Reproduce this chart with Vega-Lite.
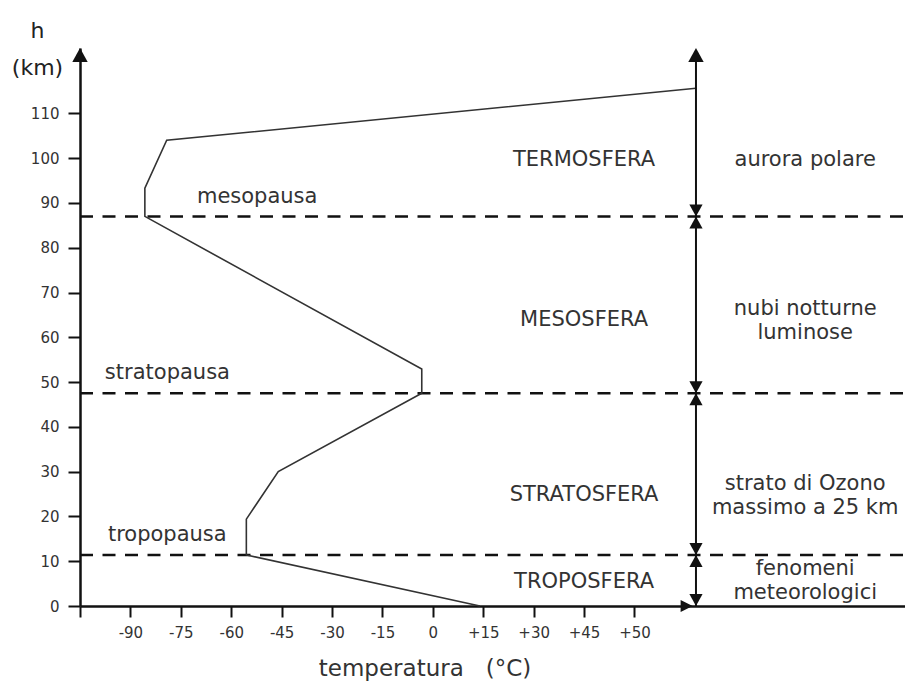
{
  "$schema": "https://vega.github.io/schema/vega-lite/v6.json",
  "width": 825,
  "height": 558,
  "autosize": {"type": "none"},
  "padding": {"left": 80, "top": 48, "right": 0, "bottom": 80},
  "background": "white",
  "config": {
    "view": {"stroke": null},
    "font": "DejaVu Sans",
    "text": {"font": "DejaVu Sans", "color": "#333"}
  },
  "datasets": {
    "profile": [
      {"o": 0, "t": 14, "h": 0},
      {"o": 1, "t": -55.5, "h": 11.4},
      {"o": 2, "t": -55.5, "h": 19.4},
      {"o": 3, "t": -46, "h": 30},
      {"o": 4, "t": -3.3, "h": 47.5},
      {"o": 5, "t": -3.3, "h": 52.9},
      {"o": 6, "t": -85.7, "h": 87},
      {"o": 7, "t": -85.7, "h": 93.3},
      {"o": 8, "t": -79.2, "h": 104},
      {"o": 9, "t": 78.3, "h": 115.6}
    ],
    "pauses": [
      {"name": "tropopausa", "h": 11.4, "t": -105, "t2": 140.5},
      {"name": "stratopausa", "h": 47.5, "t": -105, "t2": 140.5},
      {"name": "mesopausa", "h": 87, "t": -105, "t2": 140.5}
    ],
    "vline": [{"t": 78.3, "h": 0, "h2": 123}],
    "arrowsUp": [
      {"t": 78.3, "h": 87},
      {"t": 78.3, "h": 47.5},
      {"t": 78.3, "h": 11.4}
    ],
    "arrowsDown": [
      {"t": 78.3, "h": 87},
      {"t": 78.3, "h": 47.5},
      {"t": 78.3, "h": 11.4},
      {"t": 78.3, "h": 0}
    ],
    "arrowsTop": [
      {"t": -105, "h": 124.6},
      {"t": 78.3, "h": 124.6}
    ],
    "arrowRight": [{"t": 77.3, "h": 0}],
    "regions": [
      {"label": "TERMOSFERA", "t": 45, "h": 99.6},
      {"label": "MESOSFERA", "t": 45, "h": 63.8},
      {"label": "STRATOSFERA", "t": 45, "h": 24.8},
      {"label": "TROPOSFERA", "t": 45, "h": 5.4}
    ],
    "phenomena": [
      {"label": "aurora polare", "t": 110.8, "h": 99.6},
      {"label": "nubi notturne\nluminose", "t": 110.8, "h": 66.3},
      {"label": "strato di Ozono\nmassimo a 25 km", "t": 110.8, "h": 27.2},
      {"label": "fenomeni\nmeteorologici", "t": 110.8, "h": 8.3}
    ],
    "pauseLabels": [
      {"label": "mesopausa", "t": -70.2, "h": 91.3},
      {"label": "stratopausa", "t": -97.6, "h": 52.0},
      {"label": "tropopausa", "t": -96.7, "h": 15.9}
    ]
  },
  "encoding": {
    "x": {
      "field": "t",
      "type": "quantitative",
      "scale": {"domain": [-105, 140.5], "nice": false, "zero": false},
      "axis": {
        "title": "temperatura\u00a0\u00a0\u00a0(°C)",
        "values": [-105, -90, -75, -60, -45, -30, -15, 0, 15, 30, 45, 60],
        "labelExpr": "datum.value == -105 ? '' : datum.value == 60 ? '+50' : datum.value > 0 ? '+' + datum.value : '' + datum.value",
        "grid": false,
        "tickSize": 11,
        "tickWidth": 2,
        "tickColor": "#111",
        "domainColor": "#111",
        "domainWidth": 2.5,
        "labelPadding": 8,
        "labelFontSize": 15,
        "labelColor": "#333",
        "labelFont": "DejaVu Sans",
        "labelFlush": false,
        "labelOverlap": false,
        "titleFont": "DejaVu Sans",
        "titleFontSize": 23,
        "titleFontWeight": "normal",
        "titleColor": "#333",
        "titleX": 344.5,
        "titleY": 69,
        "titleAlign": "center",
        "titleBaseline": "alphabetic"
      }
    },
    "y": {
      "field": "h",
      "type": "quantitative",
      "scale": {"domain": [0, 124.6], "nice": false, "zero": false},
      "axis": {
        "title": ["h", "(km)"],
        "values": [0, 10, 20, 30, 40, 50, 60, 70, 80, 90, 100, 110],
        "grid": false,
        "tickSize": 12,
        "tickWidth": 2,
        "tickColor": "#111",
        "domainColor": "#111",
        "domainWidth": 2.5,
        "labelPadding": 9,
        "labelFontSize": 15,
        "labelColor": "#333",
        "labelFont": "DejaVu Sans",
        "labelOverlap": false,
        "labelFlush": false,
        "titleFont": "DejaVu Sans",
        "titleFontSize": 22,
        "titleFontWeight": "normal",
        "titleColor": "#222",
        "titleAngle": 0,
        "titleX": -43,
        "titleY": -28,
        "titleAlign": "center",
        "titleBaseline": "top",
        "titleLineHeight": 37
      }
    }
  },
  "layer": [
    {
      "data": {"name": "pauses"},
      "mark": {"type": "rule", "strokeDash": [13, 9.5], "strokeWidth": 2.5, "color": "#111"},
      "encoding": {"x2": {"field": "t2"}}
    },
    {
      "data": {"name": "profile"},
      "mark": {"type": "line", "strokeWidth": 1.6, "color": "#333"},
      "encoding": {"order": {"field": "o", "type": "quantitative"}}
    },
    {
      "data": {"name": "vline"},
      "mark": {"type": "rule", "strokeWidth": 2, "color": "#111"},
      "encoding": {"y2": {"field": "h2"}}
    },
    {
      "data": {"name": "arrowsUp"},
      "mark": {"type": "point", "shape": "M0,0L0.55,1L-0.55,1Z", "size": 576, "filled": true, "color": "#111", "opacity": 1, "strokeWidth": 0},
      "encoding": {}
    },
    {
      "data": {"name": "arrowsDown"},
      "mark": {"type": "point", "shape": "M0,0L0.55,-1L-0.55,-1Z", "size": 576, "filled": true, "color": "#111", "opacity": 1, "strokeWidth": 0},
      "encoding": {}
    },
    {
      "data": {"name": "arrowsTop"},
      "mark": {"type": "point", "shape": "M0,0L0.55,1L-0.55,1Z", "size": 784, "filled": true, "color": "#111", "opacity": 1, "strokeWidth": 0},
      "encoding": {}
    },
    {
      "data": {"name": "arrowRight"},
      "mark": {"type": "point", "shape": "M0,0L-1,-0.5L-1,0.5Z", "size": 576, "filled": true, "color": "#111", "opacity": 1, "strokeWidth": 0},
      "encoding": {}
    },
    {
      "data": {"name": "regions"},
      "mark": {"type": "text", "fontSize": 21, "align": "center", "baseline": "middle", "color": "#333"},
      "encoding": {"text": {"field": "label"}}
    },
    {
      "data": {"name": "phenomena"},
      "mark": {"type": "text", "fontSize": 21, "align": "center", "baseline": "middle", "lineBreak": "\n", "lineHeight": 24, "color": "#333"},
      "encoding": {"text": {"field": "label"}}
    },
    {
      "data": {"name": "pauseLabels"},
      "mark": {"type": "text", "fontSize": 21, "align": "left", "baseline": "middle", "color": "#333"},
      "encoding": {"text": {"field": "label"}}
    }
  ]
}
